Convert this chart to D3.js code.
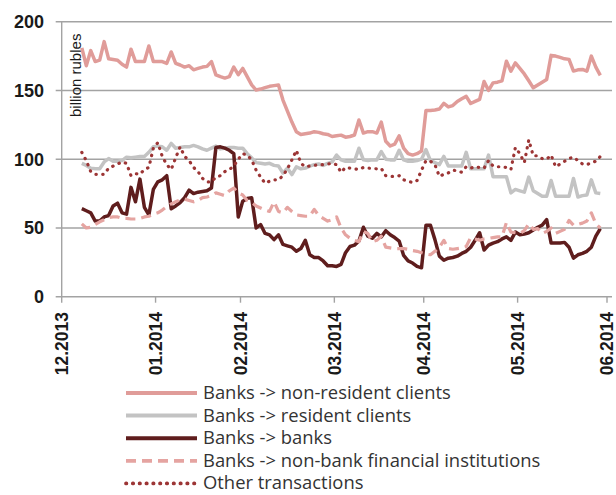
<!DOCTYPE html>
<html>
<head>
<meta charset="utf-8">
<script src="https://cdn.jsdelivr.net/npm/d3@7"></script>
<style>
  html, body { margin: 0; padding: 0; background: #fff; }
  svg { display: block; font-family: "Liberation Sans", Arial, sans-serif; }
</style>
</head>
<body>
<svg id="chart" width="616" height="495"></svg>
<script>
// Daily payment flows, trading days from December 2013 to May 2014 (billion rubles)
const firstDay = 4; // trading-day index of the first observation

const nonResident = [181,168,179,171,172,185.5,173,172.5,172,169,167,180,171,171,171,182.3,171,171,171,169.7,178,169.7,168.5,167,168,165,166,167,167.5,171,161.3,160,159,160,167,161.5,166,160,154,150.3,151,152,153,153.5,154,143,135,127,120,118,118.5,119,120,119.5,118.5,118,116.5,117,117.5,116,116.5,117.6,128.5,119,120,120,119,127,113,109.6,111,117,108,104,103,104,106,135.5,135.5,135.8,136.5,140.6,138,139,142,144,145.7,140.5,142,143.5,156.5,150,155.5,156,157,171.3,164,170,166,162,157,151.9,154,156,158,175.5,175,174,173,172.6,164.1,165,165.3,164,175,167,161];

const resident = [97,95.5,93.5,93,93,98,100.5,98.5,98.5,99,101.5,101,101.5,102,102,105,109,109.5,109,106.5,111.5,108,108.5,109,109,110,109,107.5,106.5,108,109.5,107.5,108,108.5,108.5,108,108,104,101,97.5,97,96.5,97,95.5,95,90,93.5,88.8,94.5,93,93.5,95,96,96.5,95.5,97,98,103,99.5,98.5,98.5,98.5,108,99.5,99,99.5,99.5,105.5,100,99.5,99.5,106.5,99.5,98.5,98.5,99,100,107,99,97.5,96,102,95,95,95,95,105,93,93,93,93,103,87.3,87.3,87.3,87.3,75.5,78,77,76,87,77,75,73,73,84.5,73,73,73,73,86,72.5,73.5,74,85,75.5,75];

const banks = [64,62.5,61,55,55,58,59,66,68,61,60,79.5,69,85.5,65,59.5,78,83.5,85,88,64,66,68.5,72,77.5,75,76,76.5,77,79,108.5,109,108,106.5,104,58,69.5,71.5,72,50,52.5,46,45,41.5,45,38,37,36,33,35,41,30.5,28.5,28.5,26,22.5,22.5,22,23.5,32,36.5,37.5,40.5,50.5,44,42.5,46,43.5,48,45,43,40.5,30,26,24.5,22,21,52,52,41.5,29.5,26.5,28,28.5,29.5,31.5,33,36,41,46.5,34,37.5,39,40,42,43.5,41,47,45,45.5,46.5,48.5,50.5,52,56,39,39,39,39.5,36,28,30.5,31.5,33,36,44,49.5];

const nonBank = [53,50,50.5,52.5,54.5,56,57.5,58,58,57,57,56.5,56.5,57,58,58.5,60,61,63,65.5,67.5,69,70.5,71,70,69,70,72,72.5,73.5,75.5,74.5,73.5,77,79,75.5,74,70,68.5,66,64.5,63,62,69,62,61,65,62,59.5,59,58.5,58.5,63.5,59,57,55,56,58,50,45,42.5,41,40,47.5,46,40,41,44,36,35.5,35,35,35,34.5,33.5,33,32,31,30.5,33,36,41,35,34.5,35,35.5,36.5,43,42,41,42,42.5,43,43.5,43.5,54,47,46.5,46,48,53,49,49.5,46,47.5,50,46,47.5,49,55.5,52,52.5,53.5,55,61,53,50];

const other = [105,99,91,89,89,89,93.5,95,96.5,98,97,88,89.5,89,92.5,94,108,112,102,96,92.5,101,109,102,99,94,91,86,83.5,83.5,87,88,91,92.5,95,100,104,103,99.5,92,87,82.5,84,85,85,88,93,99.5,106.5,97,94.5,95,95.5,96,96,96.5,97,96,90.5,94,93.5,93,92.5,94,93.5,93.3,93,93.3,88,87.5,87.5,88,85,84,83,84.5,92,99,98.5,96,87.5,89,90,92,91.5,90.5,94.5,93.5,94.5,94,93.5,99,95,94.5,94.5,94,92.5,108.5,104,97.5,114,102.5,102.5,100.5,100,103,94.5,96.5,98.5,100.5,101.5,99,96.5,96,97.5,98.5,102];

// month boundaries on the trading-day axis
const monthStarts = [0, 21, 40, 61, 81, 102, 122];
const monthLabels = ["12.2013", "01.2014", "02.2014", "03.2014", "04.2014", "05.2014", "06.2014"];
const yTicks = [0, 50, 100, 150, 200];

const seriesNames = [
  "Banks -> non-resident clients",
  "Banks -> resident clients",
  "Banks -> banks",
  "Banks -> non-bank financial institutions",
  "Other transactions"
];
const seriesValues = [nonResident, resident, banks, nonBank, other];

const styles = [
  { color: "#e09c99", width: 3.5, dash: null, cap: "butt" },
  { color: "#c3c3c3", width: 3.5, dash: null, cap: "butt" },
  { color: "#5f1d1d", width: 3.5, dash: null, cap: "butt" },
  { color: "#e5a4a1", width: 3.2, dash: "10,6", cap: "butt" },
  { color: "#9c3535", width: 3.2, dash: "0.4,6.4", cap: "round" }
];

const svg = d3.select("#chart");
const plot = { left: 61.7, right: 607, top: 21.7, bottom: 296.7, gridRight: 612 };

const x = d3.scaleLinear().domain([0, 122]).range([plot.left, plot.right]);
const y = d3.scaleLinear().domain([0, 200]).range([plot.bottom, plot.top]);

const axisColor = "#a3a3a3";

// horizontal gridlines with short ticks left of the axis
svg.append("g").selectAll("line").data(yTicks).join("line")
  .attr("x1", plot.left - 6).attr("x2", plot.gridRight)
  .attr("y1", d => y(d)).attr("y2", d => y(d))
  .attr("stroke", axisColor).attr("stroke-width", 1.4);

// vertical axis
svg.append("line")
  .attr("x1", plot.left).attr("x2", plot.left)
  .attr("y1", y(200)).attr("y2", y(0))
  .attr("stroke", axisColor).attr("stroke-width", 1.4);

// month ticks below the horizontal axis
svg.append("g").selectAll("line").data(monthStarts).join("line")
  .attr("x1", d => x(d)).attr("x2", d => x(d))
  .attr("y1", y(0)).attr("y2", y(0) + 6)
  .attr("stroke", axisColor).attr("stroke-width", 1.4);

// y tick labels
svg.append("g").selectAll("text").data(yTicks).join("text")
  .attr("x", 44).attr("y", d => y(d)).attr("dy", "0.36em")
  .attr("text-anchor", "end")
  .attr("font-size", 18).attr("font-weight", "bold").attr("fill", "#1a1a1a")
  .text(d => d);

// month labels, rotated
svg.append("g").selectAll("text").data(monthStarts).join("text")
  .attr("transform", d => `translate(${x(d)},312) rotate(-90)`)
  .attr("dy", "0.36em")
  .attr("text-anchor", "end")
  .attr("font-size", 17.5).attr("font-weight", "bold").attr("fill", "#1a1a1a")
  .text((d, i) => monthLabels[i]);

// unit label
svg.append("text")
  .attr("transform", "translate(81,117) rotate(-90)")
  .attr("font-size", 15).attr("fill", "#1a1a1a")
  .text("billion rubles");

// series lines
const line = d3.line()
  .x((d, i) => x(firstDay + i + 0.5))
  .y(d => y(d));

seriesValues.forEach((vals, s) => {
  const st = styles[s];
  svg.append("path")
    .datum(vals)
    .attr("d", line)
    .attr("fill", "none")
    .attr("stroke", st.color)
    .attr("stroke-width", st.width)
    .attr("stroke-linejoin", "round")
    .attr("stroke-linecap", st.cap)
    .attr("stroke-dasharray", st.dash);
});

// legend
const legend = svg.append("g");
const rowY = d => 393 + d * 22.6;
seriesNames.forEach((name, i) => {
  const st = styles[i];
  legend.append("line")
    .attr("x1", 126).attr("x2", 197)
    .attr("y1", rowY(i)).attr("y2", rowY(i))
    .attr("stroke", st.color).attr("stroke-width", st.width + 0.5)
    .attr("stroke-linecap", st.cap)
    .attr("stroke-dasharray", st.dash);
  legend.append("text")
    .attr("x", 203).attr("y", rowY(i)).attr("dy", "0.33em")
    .attr("font-family", "'Open Sans', 'Liberation Sans', sans-serif")
    .attr("font-size", 18.4).attr("fill", "#333")
    .text(name);
});
</script>
</body>
</html>
